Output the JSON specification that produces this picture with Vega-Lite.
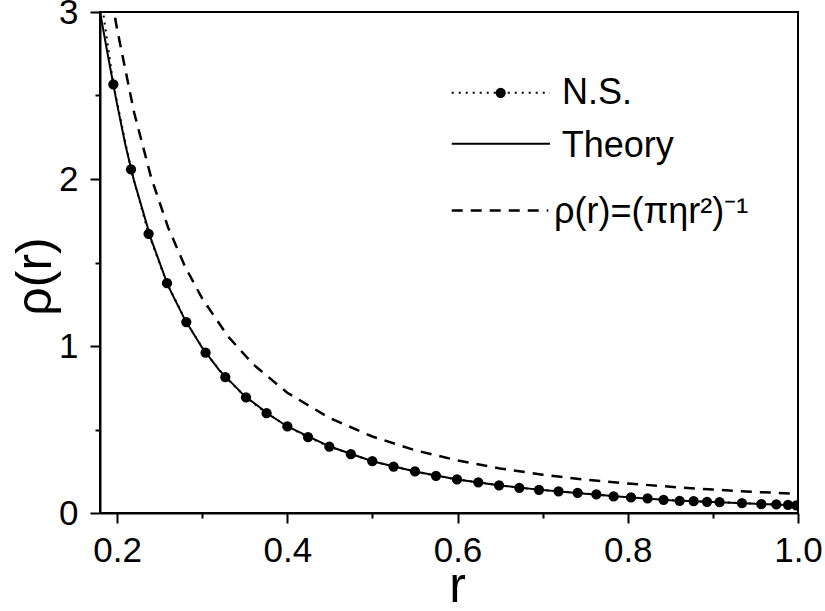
{
  "$schema": "https://vega.github.io/schema/vega-lite/v6.json",
  "width": 698,
  "height": 501,
  "autosize": "none",
  "padding": {"left": 100, "top": 12, "right": 27, "bottom": 98},
  "background": "white",
  "config": {
    "view": {"stroke": "black", "strokeWidth": 2},
    "axis": {
      "grid": false,
      "domainColor": "black",
      "domainWidth": 2,
      "tickColor": "black",
      "tickWidth": 2,
      "labelFont": "Liberation Sans",
      "labelFontSize": 35,
      "labelColor": "black",
      "titleFont": "Liberation Sans",
      "titleFontSize": 50,
      "titleFontWeight": "normal",
      "titleColor": "black"
    }
  },
  "datasets": {
    "ns": [
      {"r": 0.1715, "rho": 3.435},
      {"r": 0.1957, "rho": 2.566},
      {"r": 0.2164, "rho": 2.057},
      {"r": 0.2371, "rho": 1.672},
      {"r": 0.2587, "rho": 1.376},
      {"r": 0.2814, "rho": 1.143},
      {"r": 0.3040, "rho": 0.960},
      {"r": 0.3272, "rho": 0.814},
      {"r": 0.3515, "rho": 0.693},
      {"r": 0.3757, "rho": 0.598},
      {"r": 0.4001, "rho": 0.518},
      {"r": 0.4244, "rho": 0.454},
      {"r": 0.4494, "rho": 0.398},
      {"r": 0.4747, "rho": 0.352},
      {"r": 0.4999, "rho": 0.310},
      {"r": 0.5249, "rho": 0.278},
      {"r": 0.5501, "rho": 0.249},
      {"r": 0.5747, "rho": 0.223},
      {"r": 0.5994, "rho": 0.201},
      {"r": 0.6244, "rho": 0.184},
      {"r": 0.6488, "rho": 0.166},
      {"r": 0.6726, "rho": 0.151},
      {"r": 0.6957, "rho": 0.139},
      {"r": 0.7187, "rho": 0.130},
      {"r": 0.7411, "rho": 0.121},
      {"r": 0.7631, "rho": 0.111},
      {"r": 0.7834, "rho": 0.099},
      {"r": 0.8038, "rho": 0.093},
      {"r": 0.8233, "rho": 0.087},
      {"r": 0.8421, "rho": 0.079},
      {"r": 0.8609, "rho": 0.073},
      {"r": 0.8774, "rho": 0.071},
      {"r": 0.8931, "rho": 0.067},
      {"r": 0.9079, "rho": 0.065},
      {"r": 0.9342, "rho": 0.059},
      {"r": 0.9569, "rho": 0.053},
      {"r": 0.9745, "rho": 0.051},
      {"r": 0.9883, "rho": 0.049},
      {"r": 0.9980, "rho": 0.045}
    ],
    "theory": [
      {"r": 0.18, "rho": 3.0},
      {"r": 0.19, "rho": 2.72},
      {"r": 0.20, "rho": 2.45},
      {"r": 0.21, "rho": 2.2},
      {"r": 0.22, "rho": 1.99},
      {"r": 0.24, "rho": 1.64},
      {"r": 0.26, "rho": 1.36},
      {"r": 0.28, "rho": 1.155},
      {"r": 0.30, "rho": 0.99},
      {"r": 0.32, "rho": 0.855},
      {"r": 0.35, "rho": 0.70},
      {"r": 0.38, "rho": 0.585},
      {"r": 0.40, "rho": 0.518},
      {"r": 0.45, "rho": 0.398},
      {"r": 0.50, "rho": 0.31},
      {"r": 0.55, "rho": 0.249},
      {"r": 0.60, "rho": 0.201},
      {"r": 0.65, "rho": 0.165},
      {"r": 0.70, "rho": 0.137},
      {"r": 0.75, "rho": 0.115},
      {"r": 0.80, "rho": 0.095},
      {"r": 0.85, "rho": 0.077},
      {"r": 0.90, "rho": 0.066},
      {"r": 0.95, "rho": 0.055},
      {"r": 1.00, "rho": 0.045}
    ],
    "fit": [
      {"r": 0.19, "rho": 3.19},
      {"r": 0.20, "rho": 2.90},
      {"r": 0.22, "rho": 2.40},
      {"r": 0.24, "rho": 2.01},
      {"r": 0.26, "rho": 1.71},
      {"r": 0.28, "rho": 1.475},
      {"r": 0.30, "rho": 1.285},
      {"r": 0.33, "rho": 1.06},
      {"r": 0.36, "rho": 0.89},
      {"r": 0.40, "rho": 0.72},
      {"r": 0.45, "rho": 0.568},
      {"r": 0.50, "rho": 0.458},
      {"r": 0.55, "rho": 0.376},
      {"r": 0.60, "rho": 0.315},
      {"r": 0.65, "rho": 0.267},
      {"r": 0.70, "rho": 0.229},
      {"r": 0.75, "rho": 0.200},
      {"r": 0.80, "rho": 0.177},
      {"r": 0.85, "rho": 0.157},
      {"r": 0.90, "rho": 0.140},
      {"r": 0.95, "rho": 0.126},
      {"r": 1.00, "rho": 0.115}
    ]
  },
  "layer": [
    {
      "data": {"name": "fit"},
      "mark": {"type": "line", "color": "black", "strokeWidth": 2.5, "strokeDash": [11, 8], "clip": true},
      "encoding": {
        "x": {
          "field": "r", "type": "quantitative",
          "scale": {"domain": [0.18, 1.0], "nice": false, "zero": false},
          "axis": {
            "title": "r",
            "values": [0.2, 0.3, 0.4, 0.5, 0.6, 0.7, 0.8, 0.9, 1.0],
            "labelExpr": "round(datum.value*10)%2==1 ? '' : format(datum.value, '.1f')",
            "tickSize": {"condition": {"test": "round(datum.value*10)%2==1", "value": 5}, "value": 10},
            "labelPadding": 10,
            "labelFlush": false,
            "labelOverlap": false,
            "titleX": 357,
            "titleY": 88,
            "titleAlign": "center",
            "titleBaseline": "alphabetic",
            "titleAnchor": null
          }
        },
        "y": {
          "field": "rho", "type": "quantitative",
          "scale": {"domain": [0, 3], "nice": false},
          "axis": {
            "title": "ρ(r)",
            "values": [0, 0.5, 1, 1.5, 2, 2.5, 3],
            "labelExpr": "datum.value % 1 != 0 ? '' : format(datum.value, 'd')",
            "tickSize": {"condition": {"test": "datum.value % 1 != 0", "value": 5}, "value": 10},
            "labelPadding": 12,
            "labelFlush": false,
            "labelOverlap": false,
            "titleX": -50,
            "titleY": 264,
            "titleAngle": -90,
            "titleAlign": "center",
            "titleBaseline": "alphabetic",
            "titleAnchor": null
          }
        }
      }
    },
    {
      "data": {"name": "theory"},
      "mark": {"type": "line", "color": "black", "strokeWidth": 2, "clip": true},
      "encoding": {
        "x": {"field": "r", "type": "quantitative"},
        "y": {"field": "rho", "type": "quantitative"}
      }
    },
    {
      "data": {"name": "ns"},
      "mark": {"type": "line", "color": "black", "strokeWidth": 2, "strokeDash": [2, 5], "clip": true},
      "encoding": {
        "x": {"field": "r", "type": "quantitative"},
        "y": {"field": "rho", "type": "quantitative"}
      }
    },
    {
      "data": {"name": "ns"},
      "mark": {"type": "circle", "color": "black", "opacity": 1, "size": 105, "clip": true},
      "encoding": {
        "x": {"field": "r", "type": "quantitative"},
        "y": {"field": "rho", "type": "quantitative"}
      }
    },
    {
      "data": {"values": [{"label": "N.S."}]},
      "mark": {"type": "rule", "color": "black", "strokeWidth": 2, "strokeDash": [2, 5]},
      "encoding": {
        "x": {"datum": 0.5932, "type": "quantitative"},
        "x2": {"datum": 0.7086},
        "y": {"datum": 2.516, "type": "quantitative"}
      }
    },
    {
      "data": {"values": [{"label": "N.S."}]},
      "mark": {"type": "circle", "color": "black", "opacity": 1, "size": 105},
      "encoding": {
        "x": {"datum": 0.6507, "type": "quantitative"},
        "y": {"datum": 2.516, "type": "quantitative"}
      }
    },
    {
      "data": {"values": [{"label": "Theory"}]},
      "mark": {"type": "rule", "color": "black", "strokeWidth": 2},
      "encoding": {
        "x": {"datum": 0.5932, "type": "quantitative"},
        "x2": {"datum": 0.7086},
        "y": {"datum": 2.211, "type": "quantitative"}
      }
    },
    {
      "data": {"values": [{"label": "fit"}]},
      "mark": {"type": "rule", "color": "black", "strokeWidth": 2.5, "strokeDash": [11, 8]},
      "encoding": {
        "x": {"datum": 0.5932, "type": "quantitative"},
        "x2": {"datum": 0.7066},
        "y": {"datum": 1.811, "type": "quantitative"}
      }
    },
    {
      "data": {"values": [{"label": "N.S."}]},
      "mark": {"type": "text", "align": "left", "baseline": "middle", "font": "Liberation Sans", "fontSize": 36, "color": "black"},
      "encoding": {
        "x": {"datum": 0.7227, "type": "quantitative"},
        "y": {"datum": 2.515, "type": "quantitative"},
        "text": {"field": "label"}
      }
    },
    {
      "data": {"values": [{"label": "Theory"}]},
      "mark": {"type": "text", "align": "left", "baseline": "middle", "font": "Liberation Sans", "fontSize": 36, "color": "black"},
      "encoding": {
        "x": {"datum": 0.7224, "type": "quantitative"},
        "y": {"datum": 2.20, "type": "quantitative"},
        "text": {"field": "label"}
      }
    },
    {
      "data": {"values": [{"label": "ρ(r)=(πηr²)⁻¹"}]},
      "mark": {"type": "text", "align": "left", "baseline": "middle", "font": "Liberation Sans", "fontSize": 36, "color": "black"},
      "encoding": {
        "x": {"datum": 0.7133, "type": "quantitative"},
        "y": {"datum": 1.80, "type": "quantitative"},
        "text": {"field": "label"}
      }
    }
  ]
}
